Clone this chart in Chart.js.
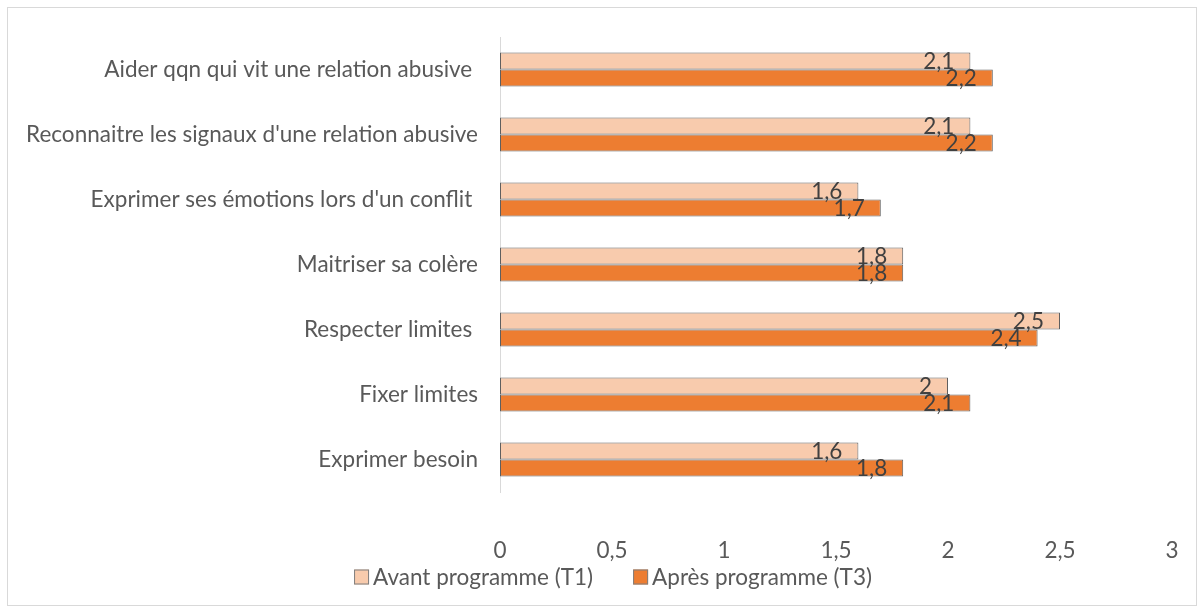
<!DOCTYPE html>
<html>
<head>
<meta charset="utf-8">
<script src="https://cdn.jsdelivr.net/npm/chart.js@4/dist/chart.umd.min.js"></script>
<style>
  html, body { margin: 0; padding: 0; background: #fff; }
  #wrap { position: absolute; left: 0; top: 0; width: 1203px; height: 612px; }
</style>
</head>
<body>
<div id="wrap"><canvas id="barChart"></canvas></div>
<script>
// Chart data
const categories = [
  'Aider qqn qui vit une relation abusive ',
  "Reconnaitre les signaux d'une relation abusive",
  "Exprimer ses émotions lors d'un conflit ",
  'Maitriser sa colère',
  'Respecter limites ',
  'Fixer limites',
  'Exprimer besoin'
];
const avantValues = [2.1, 2.1, 1.6, 1.8, 2.5, 2.0, 1.6];
const apresValues = [2.2, 2.2, 1.7, 1.8, 2.4, 2.1, 1.8];
const xTickLabels = ['0', '0,5', '1', '1,5', '2', '2,5', '3'];
const seriesLabels = ['Avant programme (T1)', 'Après programme (T3)'];

const FONT = 'Lato';
const FONT_SIZE = 22.5;
const TEXT_COLOR = '#595959';

function formatNumber(v) {
  return String(v).replace('.', ',');
}

// Light frame around the whole chart
const framePlugin = {
  id: 'frame',
  beforeDraw(chart) {
    const c = chart.ctx;
    c.save();
    c.fillStyle = '#fff';
    c.fillRect(0, 0, chart.width, chart.height);
    c.strokeStyle = '#d9d9d9';
    c.lineWidth = 1;
    c.strokeRect(7.5, 7.5, 1189, 598);
    c.restore();
  }
};

// Value labels at the inner end of each bar
const valueLabelPlugin = {
  id: 'valueLabels',
  afterDatasetsDraw(chart) {
    const c = chart.ctx;
    c.save();
    c.font = `${FONT_SIZE}px ${FONT}`;
    c.fillStyle = '#404040';
    c.textAlign = 'right';
    c.textBaseline = 'middle';
    chart.data.datasets.forEach((ds, i) => {
      const meta = chart.getDatasetMeta(i);
      meta.data.forEach((bar, j) => {
        c.fillText(formatNumber(ds.data[j]), bar.x - 16, bar.y + 1);
      });
    });
    c.restore();
  }
};

// Legend drawn by hand so the spacing matches the Excel one
const bottomLegendPlugin = {
  id: 'bottomLegend',
  afterDraw(chart) {
    const c = chart.ctx;
    const box = 15, gap = 4, itemGap = 40;
    const centerX = 613, centerY = 577;
    c.save();
    c.font = `${FONT_SIZE}px ${FONT}`;
    c.textBaseline = 'middle';
    c.textAlign = 'left';
    const widths = chart.data.datasets.map(ds => c.measureText(ds.label).width);
    let total = 0;
    widths.forEach((w, i) => { total += box + gap + w + (i > 0 ? itemGap : 0); });
    let x = centerX - total / 2;
    chart.data.datasets.forEach((ds, i) => {
      c.fillStyle = ds.backgroundColor;
      c.fillRect(x, centerY - box / 2, box, box);
      c.strokeStyle = '#7f7f7f';
      c.lineWidth = 1;
      c.strokeRect(x + 0.5, centerY - box / 2 + 0.5, box - 1, box - 1);
      c.fillStyle = TEXT_COLOR;
      c.fillText(ds.label, x + box + gap, centerY + 1);
      x += box + gap + widths[i] + itemGap;
    });
    c.restore();
  }
};

const ctx = document.getElementById('barChart');

new Chart(ctx, {
  type: 'bar',
  data: {
    labels: categories,
    datasets: [
      {
        label: seriesLabels[0],
        data: avantValues,
        backgroundColor: '#f8cbad',
        borderColor: '#5f5f5f',
        borderWidth: 1,
        borderSkipped: false
      },
      {
        label: seriesLabels[1],
        data: apresValues,
        backgroundColor: '#ed7d31',
        borderColor: '#5f5f5f',
        borderWidth: 1,
        borderSkipped: false
      }
    ]
  },
  options: {
    indexAxis: 'y',
    responsive: true,
    maintainAspectRatio: false,
    animation: false,
    datasets: {
      bar: {
        barPercentage: 1,
        categoryPercentage: 34 / 65
      }
    },
    layout: {
      padding: { top: 37, right: 31, bottom: 40, left: 0 }
    },
    plugins: {
      legend: { display: false },
      tooltip: { enabled: false }
    },
    scales: {
      x: {
        min: 0,
        max: 3,
        ticks: {
          stepSize: 0.5,
          padding: 3,
          color: TEXT_COLOR,
          font: { size: FONT_SIZE, family: FONT },
          callback: function(value, index) {
            return xTickLabels[index];
          }
        },
        // invisible tick marks only push the labels down
        grid: { display: false, drawTicks: true, tickLength: 42 },
        border: { display: false },
        afterFit(scale) {
          scale.height = 80;
        }
      },
      y: {
        ticks: {
          padding: 3,
          color: TEXT_COLOR,
          font: { size: FONT_SIZE, family: FONT }
        },
        grid: { display: false, drawTicks: true, tickLength: 19 },
        border: { display: true, color: '#d9d9d9', width: 1 },
        afterFit(scale) {
          scale.width = 500;
        }
      }
    }
  },
  plugins: [framePlugin, valueLabelPlugin, bottomLegendPlugin]
});
</script>
</body>
</html>
